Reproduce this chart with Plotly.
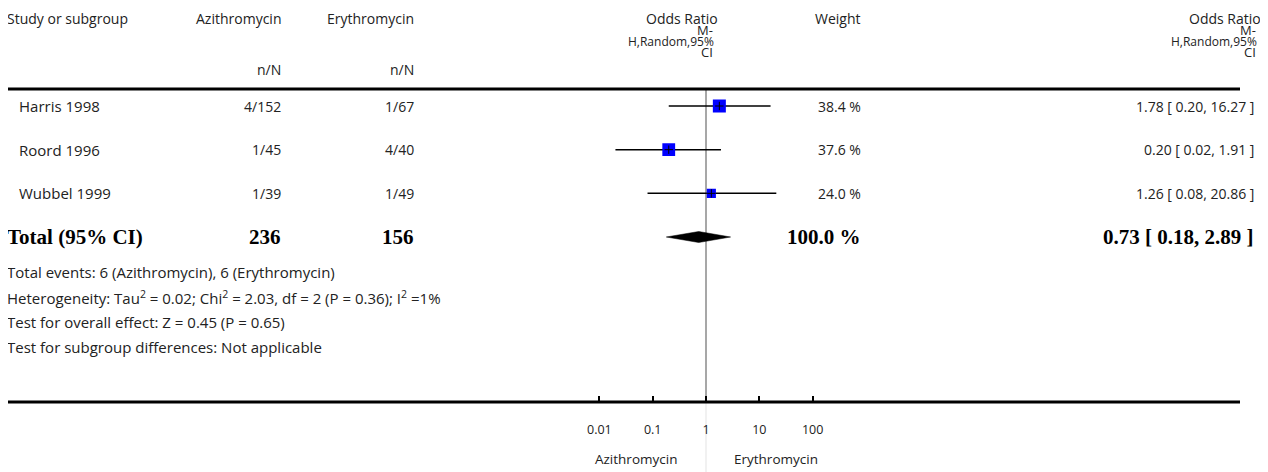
import plotly.graph_objects as go

W, H = 1268, 472

# ---------------- data ----------------
studies = ["Harris 1998", "Roord 1996", "Wubbel 1999"]
azi_n = [4, 1, 1]
azi_N = [152, 45, 39]
ery_n = [1, 4, 1]
ery_N = [67, 40, 49]
odds = [1.78, 0.20, 1.26]
ci_lo = [0.20, 0.02, 0.08]
ci_hi = [16.27, 1.91, 20.86]
weights = [38.4, 37.6, 24.0]

total_label = "Total (95% CI)"
total_azi = 236
total_ery = 156
total_weight = 100.0
total_or = 0.73
total_lo = 0.18
total_hi = 2.89

footnotes = [
    "Total events: 6 (Azithromycin), 6 (Erythromycin)",
    "Heterogeneity: Tau<sup>2</sup> = 0.02; Chi<sup>2</sup> = 2.03, df = 2 (P = 0.36); I<sup>2</sup> =1%",
    "Test for overall effect: Z = 0.45 (P = 0.65)",
    "Test for subgroup differences: Not applicable",
]

tick_vals = [0.01, 0.1, 1, 10, 100]
tick_text = ["0.01", "0.1", "1", "10", "100"]
favours_left = "Azithromycin"
favours_right = "Erythromycin"

# ---------------- layout constants (pixels, page coordinates) ----------------
OFF = 8.0  # default page margin of the html body
FONT = "Open Sans"
SERIF = "Liberation Serif"
TXT = "#222222"
ROW0_PX = 106.0
ROW_STEP = 43.67
ONE_PX = 706.0
DECADE_PX = 53.3
X_HALF = 2.5
AXIS_PX = 402.0
TOPLINE_PX = 89.0

# figure-relative row mapping
Y_TOP = -(ROW0_PX - OFF) / ROW_STEP
Y_BOT = (H - (ROW0_PX - OFF)) / ROW_STEP

rows = list(range(len(studies)))
total_row = len(studies)


def px(x):
    return (x - OFF) / W


def py(y):
    return 1 - (y - OFF) / H


fig = go.Figure()

# CI lines
lx, ly = [], []
for r, a, b in zip(rows, ci_lo, ci_hi):
    lx += [a, b, None]
    ly += [r, r, None]
fig.add_trace(go.Scatter(x=lx, y=ly, mode="lines",
                         line=dict(color="black", width=1.5),
                         hoverinfo="skip", showlegend=False))

# weight squares
sizes = [13 * (w / max(weights)) ** 0.75 for w in weights]
fig.add_trace(go.Scatter(x=odds, y=rows, mode="markers",
                         marker=dict(symbol="square", size=sizes, color="#0000ff",
                                     opacity=1, line=dict(width=0)),
                         showlegend=False))
fig.add_trace(go.Scatter(x=odds, y=rows, mode="markers",
                         marker=dict(symbol="cross-thin", size=6, opacity=1,
                                     line=dict(color="black", width=1)),
                         showlegend=False, hoverinfo="skip"))

# total diamond
dh = 5.5 / ROW_STEP
fig.add_trace(go.Scatter(
    x=[total_lo, total_or, total_hi, total_or, total_lo],
    y=[total_row, total_row - dh, total_row, total_row + dh, total_row],
    mode="lines", fill="toself", fillcolor="black",
    line=dict(color="black", width=0.5), showlegend=False, hoverinfo="skip"))

# ---------------- shapes ----------------
shapes = [
    dict(type="line", xref="paper", yref="paper", x0=px(0), x1=px(1240),
         y0=py(TOPLINE_PX), y1=py(TOPLINE_PX), line=dict(color="black", width=3)),
    dict(type="line", xref="paper", yref="paper", x0=px(7), x1=px(1240),
         y0=py(AXIS_PX), y1=py(AXIS_PX), line=dict(color="black", width=3)),
    dict(type="line", xref="x", yref="paper", x0=1, x1=1,
         y0=py(AXIS_PX), y1=py(TOPLINE_PX), line=dict(color="#8a8a8a", width=1.5),
         layer="below"),
    dict(type="line", xref="x", yref="paper", x0=1, x1=1,
         y0=0, y1=py(AXIS_PX), line=dict(color="#ececec", width=1.5),
         layer="below"),
]

# ---------------- annotations ----------------
ann = []


def text(t, x, y, anchor="left", size=14, font=FONT, yref="paper", color=TXT,
         top=False):
    if top:
        yy, ya = 1.0, "top"
    else:
        yy, ya = (py(y) if yref == "paper" else y), "middle"
    ann.append(dict(text=t, x=px(x), y=yy,
                    xref="paper", yref=yref, xanchor=anchor, yanchor=ya,
                    borderpad=0, showarrow=False,
                    font=dict(family=font, size=size, color=color)))


# header (first line sits at the top edge of the figure)
HS = 14
text("Study or subgroup", 6, 0, size=HS, top=True)
text("Azithromycin", 282, 0, "right", size=HS, top=True)
text("Erythromycin", 415, 0, "right", size=HS, top=True)
text("Weight", 862, 0, "right", size=HS, top=True)
text("n/N", 282, 70, "right", size=HS)
text("n/N", 415, 70, "right", size=HS)
for xr in (714, 1257):
    text("Odds Ratio", xr + 5, 0, "right", size=HS, top=True)
    text("M-", xr, 30, "right", size=13)
    text("H,Random,95%", xr + 1, 41, "right", size=12)
    text("CI", xr, 52, "right", size=13)

# study rows
for r, s, an, aN, en, eN, w, o, a, b in zip(rows, studies, azi_n, azi_N, ery_n, ery_N,
                                          weights, odds, ci_lo, ci_hi):
    text(s, 18, r, "left", size=15, yref="y")
    text(f"{an}/{aN}", 282, r, "right", size=14, yref="y")
    text(f"{en}/{eN}", 415, r, "right", size=14, yref="y")
    text(f"{w:.1f} %", 862, r, "right", size=14, yref="y")
    text(f"{o:.2f} [ {a:.2f}, {b:.2f} ]", 1255, r, "right", size=14, yref="y")

# total row
bold = dict(size=21, font=SERIF, yref="y", color="black")
text(f"<b>{total_label}</b>", 6, total_row, "left", **bold)
text(f"<b>{total_azi}</b>", 282, total_row, "right", **bold)
text(f"<b>{total_ery}</b>", 415, total_row, "right", **bold)
text(f"<b>{total_weight:.1f} %</b>", 862, total_row, "right", **bold)
text(f"<b>{total_or:.2f} [ {total_lo:.2f}, {total_hi:.2f} ]</b>", 1255, total_row, "right", **bold)

# footnotes
for i, f in enumerate(footnotes):
    text(f, 6, 272 + 25 * i, "left", size=15)

# favours labels
text(favours_left, 678, 459, "right", size=13.5)
text(favours_right, 733, 459, "left", size=13.5)

x_left = ONE_PX - X_HALF * DECADE_PX
x_right = ONE_PX + X_HALF * DECADE_PX

fig.update_layout(
    width=W, height=H,
    margin=dict(l=0, r=0, t=0, b=0),
    paper_bgcolor="white", plot_bgcolor="white",
    shapes=shapes, annotations=ann, showlegend=False,
    xaxis=dict(type="log", range=[-X_HALF, X_HALF],
               domain=[px(x_left), px(x_right)],
               anchor="free", position=py(AXIS_PX),
               tickvals=tick_vals, ticktext=tick_text,
               ticks="inside", ticklen=6, tickwidth=2, tickcolor="black",
               showline=False, showgrid=False, zeroline=False,
               tickfont=dict(family=FONT, size=12.5, color=TXT),
               ticklabelstandoff=18, fixedrange=True),
    yaxis=dict(range=[Y_BOT, Y_TOP], domain=[0, 1], visible=False,
               showgrid=False, zeroline=False, fixedrange=True),
)

fig.write_html("out.html")
